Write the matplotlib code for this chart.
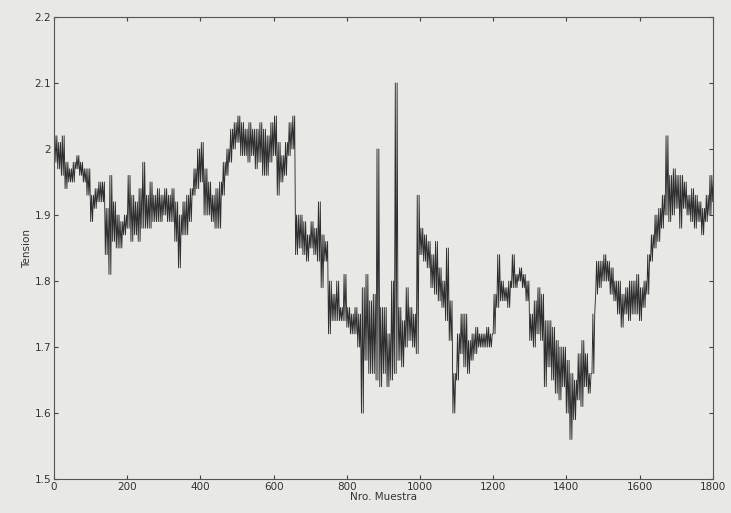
import numpy as np
import matplotlib
matplotlib.use("Agg")
import matplotlib.pyplot as plt
from matplotlib.ticker import FormatStrFormatter, MultipleLocator

# muestras por bloque de 10 (0 .. 1800): valor minimo y maximo de cada bloque
muestra = list(range(0, 1801, 10))

tension_min = [
    1.98, 1.97, 1.96, 1.94, 1.95, 1.95, 1.97, 1.96, 1.95, 1.93,
    1.89, 1.91, 1.92, 1.92, 1.84, 1.81, 1.86, 1.85, 1.85, 1.87,
    1.88, 1.86, 1.87, 1.86, 1.88, 1.88, 1.88, 1.89, 1.89, 1.89,
    1.90, 1.89, 1.89, 1.86, 1.82, 1.87, 1.87, 1.89, 1.93, 1.94,
    1.95, 1.90, 1.90, 1.89, 1.88, 1.88, 1.93, 1.96, 1.98, 2.00,
    2.01, 1.99, 1.99, 1.98, 1.99, 1.97, 1.98, 1.96, 1.96, 1.98,
    1.99, 1.93, 1.95, 1.96, 1.99, 2.00, 1.84, 1.85, 1.84, 1.83,
    1.85, 1.84, 1.83, 1.79, 1.83, 1.72, 1.74, 1.74, 1.74, 1.74,
    1.73, 1.72, 1.72, 1.70, 1.60, 1.68, 1.66, 1.66, 1.65, 1.64,
    1.66, 1.64, 1.65, 1.66, 1.68, 1.67, 1.70, 1.71, 1.70, 1.69,
    1.84, 1.83, 1.82, 1.79, 1.78, 1.77, 1.76, 1.74, 1.71, 1.60,
    1.65, 1.69, 1.67, 1.66, 1.68, 1.69, 1.70, 1.70, 1.70, 1.70,
    1.72, 1.76, 1.77, 1.77, 1.76, 1.79, 1.79, 1.80, 1.79, 1.77,
    1.71, 1.70, 1.72, 1.71, 1.64, 1.67, 1.65, 1.63, 1.62, 1.64,
    1.60, 1.56, 1.59, 1.62, 1.61, 1.64, 1.63, 1.66, 1.78, 1.79,
    1.80, 1.80, 1.78, 1.77, 1.75, 1.73, 1.75, 1.74, 1.75, 1.75,
    1.74, 1.76, 1.78, 1.83, 1.85, 1.86, 1.88, 1.90, 1.89, 1.90,
    1.91, 1.88, 1.91, 1.90, 1.89, 1.88, 1.89, 1.87, 1.89, 1.90,
    1.92,
]

tension_max = [
    2.02, 2.01, 2.02, 1.98, 1.97, 1.98, 1.99, 1.98, 1.97, 1.97,
    1.93, 1.94, 1.95, 1.95, 1.91, 1.96, 1.92, 1.90, 1.89, 1.90,
    1.96, 1.93, 1.92, 1.94, 1.98, 1.93, 1.95, 1.93, 1.94, 1.93,
    1.94, 1.93, 1.94, 1.92, 1.90, 1.92, 1.93, 1.94, 1.97, 2.00,
    2.01, 1.97, 1.95, 1.93, 1.94, 1.95, 1.98, 2.00, 2.03, 2.04,
    2.05, 2.04, 2.03, 2.04, 2.03, 2.03, 2.04, 2.03, 2.02, 2.04,
    2.05, 2.01, 1.99, 2.01, 2.04, 2.05, 1.90, 1.90, 1.89, 1.87,
    1.89, 1.88, 1.92, 1.87, 1.86, 1.80, 1.78, 1.80, 1.76, 1.81,
    1.76, 1.75, 1.76, 1.75, 1.79, 1.81, 1.77, 1.78, 2.00, 1.76,
    1.76, 1.72, 1.80, 2.10, 1.76, 1.74, 1.79, 1.76, 1.75, 1.93,
    1.88, 1.87, 1.86, 1.84, 1.86, 1.82, 1.80, 1.85, 1.77, 1.66,
    1.72, 1.75, 1.75, 1.71, 1.72, 1.73, 1.72, 1.72, 1.73, 1.72,
    1.78, 1.84, 1.80, 1.79, 1.80, 1.84, 1.81, 1.82, 1.81, 1.80,
    1.75, 1.77, 1.79, 1.78, 1.74, 1.74, 1.73, 1.71, 1.70, 1.70,
    1.68, 1.66, 1.65, 1.69, 1.71, 1.69, 1.66, 1.75, 1.83, 1.83,
    1.84, 1.83, 1.82, 1.80, 1.80, 1.78, 1.79, 1.80, 1.80, 1.81,
    1.79, 1.80, 1.84, 1.87, 1.90, 1.91, 1.93, 2.02, 1.96, 1.97,
    1.96, 1.96, 1.95, 1.93, 1.94, 1.93, 1.92, 1.91, 1.93, 1.96,
    1.96,
]

# trazo en zigzag: cada bloque se dibuja como trazos verticales min-max
x_traza = []
y_traza = []
for m, lo, hi in zip(muestra, tension_min, tension_max):
    x_traza += [m, m + 2.5, m + 5, m + 7.5]
    y_traza += [lo, hi, lo, hi]

fondo = '#e8e8e6'
fig = plt.figure(figsize=(7.31, 5.13), dpi=100, facecolor=fondo)
ax = fig.add_axes([0.074, 0.066, 0.901, 0.901], facecolor=fondo)

ax.plot(x_traza, y_traza, color='#2e2e2e', linewidth=0.65)

ax.set_xlim(0, 1800)
ax.set_ylim(1.5, 2.2)
ax.xaxis.set_major_locator(MultipleLocator(200))
ax.yaxis.set_major_locator(MultipleLocator(0.1))
ax.yaxis.set_major_formatter(FormatStrFormatter('%g'))
ax.tick_params(direction='in', top=True, right=True, length=3,
               labelsize=7.5, colors='#444444', labelcolor='#333333', pad=2)
for s in ax.spines.values():
    s.set_color('#555555')
    s.set_linewidth(0.8)

ax.set_xlabel('Nro. Muestra', fontsize=7.5, color='#333333', labelpad=0)
ax.set_ylabel('Tension', fontsize=7.5, color='#333333', labelpad=2)

fig.savefig('out.png', dpi=100, facecolor=fondo)
